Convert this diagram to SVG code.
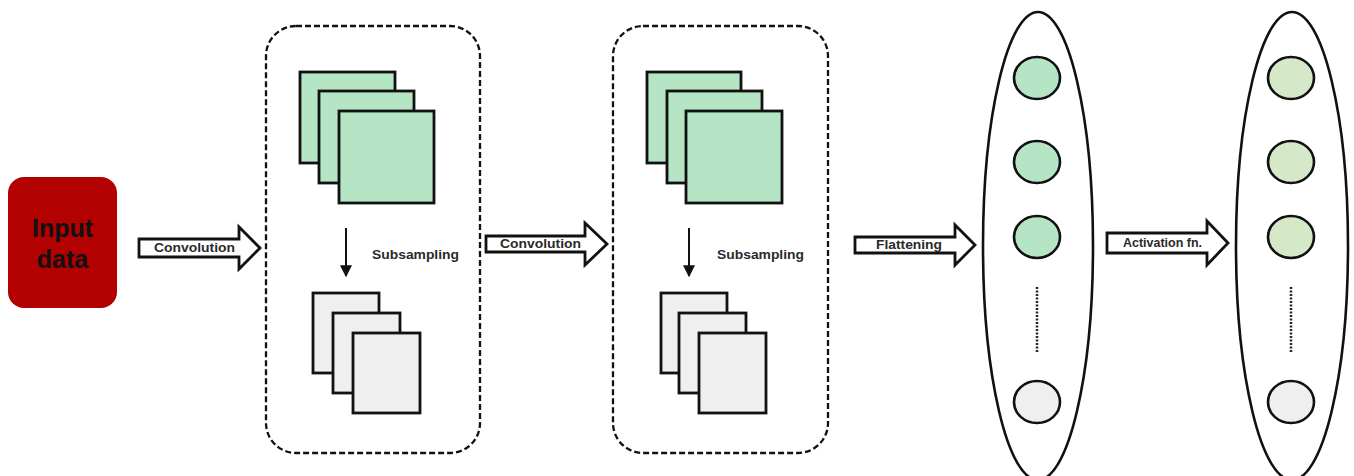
<svg xmlns="http://www.w3.org/2000/svg" width="1354" height="476" viewBox="0 0 1354 476">
<defs>
<style>
.bg{fill:#ffffff}
.dash{fill:none;stroke:#111;stroke-width:2.3;stroke-dasharray:6 3}
.fm{fill:#b5e5c4;stroke:#111;stroke-width:2.8}
.pm{fill:#efefef;stroke:#111;stroke-width:2.8}
.blk{fill:#fff;stroke:#111;stroke-width:2.8;stroke-linejoin:miter}
.lbl{font-family:"Liberation Sans",Arial,sans-serif;font-weight:bold;font-size:12px;fill:#2a2a2a}
.big{font-family:"Liberation Sans",Arial,sans-serif;font-weight:bold;font-size:25px;fill:#111}
.layer{fill:#fff;stroke:#111;stroke-width:2.6}
.n1{fill:#b5e5c4;stroke:#111;stroke-width:2.6}
.n2{fill:#d5e9c9;stroke:#111;stroke-width:2.6}
.ng{fill:#efefef;stroke:#111;stroke-width:2.6}
.dots{stroke:#222;stroke-width:2.5;stroke-dasharray:2 1.5}
.thin{stroke:#111;stroke-width:2;fill:none}
</style>
<marker id="ah" viewBox="0 0 10 10" refX="9" refY="5" markerWidth="6" markerHeight="6" orient="auto">
<path d="M0,0 L10,5 L0,10 z" fill="#111"/>
</marker>
</defs>
<rect class="bg" x="0" y="0" width="1354" height="476"/>

<g id="input">
<rect x="8" y="177" width="109" height="131" rx="16" fill="#b30000"/>
<text class="big" x="62.5" y="237" text-anchor="middle">Input</text>
<text class="big" x="62.5" y="268" text-anchor="middle">data</text>
</g>

<g id="block1">
<rect class="dash" x="266" y="26" width="214" height="427" rx="30"/>
<rect class="fm" x="300" y="72" width="95" height="91"/>
<rect class="fm" x="319" y="91" width="95" height="92"/>
<rect class="fm" x="339" y="111" width="95" height="92"/>
<line class="thin" x1="346" y1="228" x2="346" y2="276" marker-end="url(#ah)"/>
<text class="lbl" x="372" y="259" textLength="87" lengthAdjust="spacingAndGlyphs">Subsampling</text>
<rect class="pm" x="313" y="293" width="66" height="80"/>
<rect class="pm" x="333" y="313" width="67" height="80"/>
<rect class="pm" x="353" y="333" width="67" height="80"/>
</g>

<g id="block2">
<rect class="dash" x="613" y="26" width="215" height="427" rx="30"/>
<rect class="fm" x="647" y="72" width="94" height="91"/>
<rect class="fm" x="667" y="91" width="95" height="92"/>
<rect class="fm" x="686" y="111" width="96" height="92"/>
<line class="thin" x1="689" y1="228" x2="689" y2="276" marker-end="url(#ah)"/>
<text class="lbl" x="717" y="259" textLength="87" lengthAdjust="spacingAndGlyphs">Subsampling</text>
<rect class="pm" x="661" y="293" width="66" height="80"/>
<rect class="pm" x="679" y="313" width="67" height="80"/>
<rect class="pm" x="699" y="333" width="67" height="80"/>
</g>

<g id="flatten-layer">
<ellipse class="layer" cx="1038" cy="246" rx="55" ry="234"/>
<ellipse class="n1" cx="1037" cy="78" rx="23" ry="21"/>
<ellipse class="n1" cx="1037" cy="162" rx="23" ry="21"/>
<ellipse class="n1" cx="1037" cy="237" rx="23" ry="21"/>
<line class="dots" x1="1037" y1="287" x2="1037" y2="353"/>
<ellipse class="ng" cx="1037" cy="402" rx="23" ry="21"/>
</g>

<g id="output-layer">
<ellipse class="layer" cx="1292" cy="246" rx="56" ry="234"/>
<ellipse class="n2" cx="1291" cy="78" rx="23" ry="21"/>
<ellipse class="n2" cx="1291" cy="162" rx="23" ry="21"/>
<ellipse class="n2" cx="1291" cy="237" rx="23" ry="21"/>
<line class="dots" x1="1291" y1="287" x2="1291" y2="353"/>
<ellipse class="ng" cx="1291" cy="402" rx="23" ry="21"/>
</g>

<g id="connectors">
<polygon class="blk" points="139,239 239,239 239,227 260,248 239,269 239,257 139,257"/>
<text class="lbl" x="154" y="252" textLength="81" lengthAdjust="spacingAndGlyphs">Convolution</text>
<polygon class="blk" points="486,236 585,236 585,223 607,244 585,265 585,252 486,252"/>
<text class="lbl" x="500" y="248" textLength="81" lengthAdjust="spacingAndGlyphs">Convolution</text>
<polygon class="blk" points="855,237 955,237 955,225 975,245 955,265 955,253 855,253"/>
<text class="lbl" x="876" y="249" textLength="66" lengthAdjust="spacingAndGlyphs">Flattening</text>
<polygon class="blk" points="1107,233 1207,233 1207,221 1228,243 1207,265 1207,253 1107,253"/>
<text class="lbl" x="1123" y="247" textLength="79" lengthAdjust="spacingAndGlyphs">Activation fn.</text>
</g>
</svg>
